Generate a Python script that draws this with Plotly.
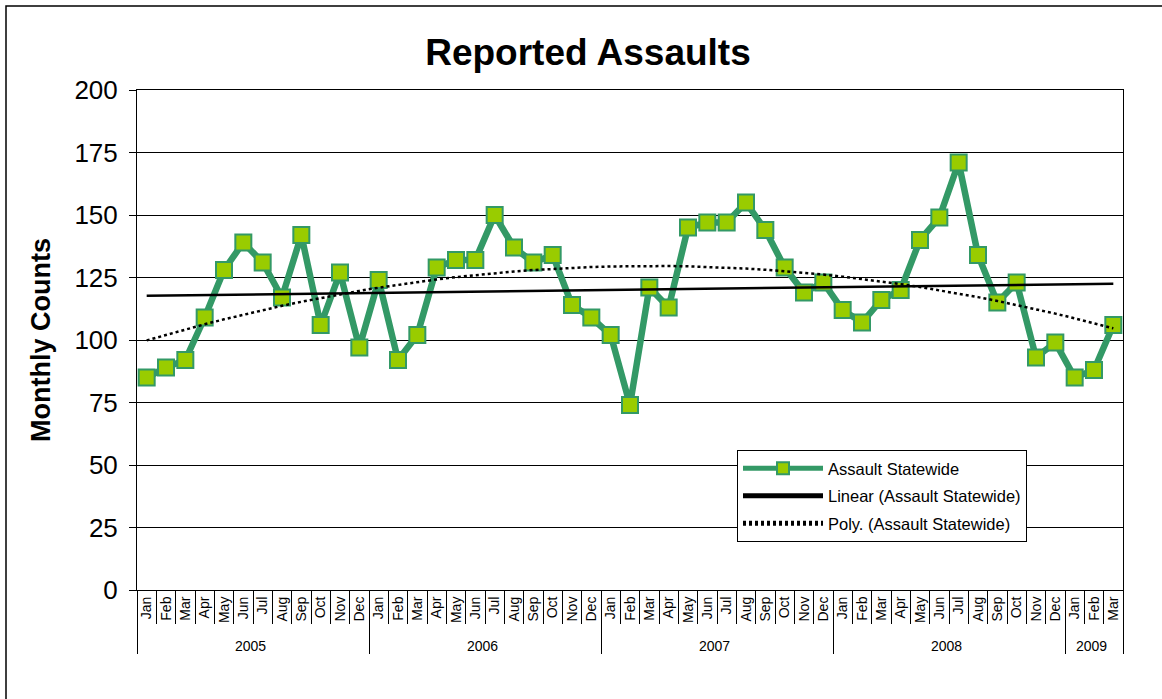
import numpy as np
import plotly.graph_objects as go

month_names = ["Jan", "Feb", "Mar", "Apr", "May", "Jun", "Jul", "Aug", "Sep", "Oct", "Nov", "Dec"]
years = ["2005"] * 12 + ["2006"] * 12 + ["2007"] * 12 + ["2008"] * 12 + ["2009"] * 3
months = month_names * 4 + ["Jan", "Feb", "Mar"]

assaults = [
    85, 89, 92, 109, 128, 139, 131, 117, 142, 106, 127, 97,     # 2005
    124, 92, 102, 129, 132, 132, 150, 137, 131, 134, 114, 109,  # 2006
    102, 74, 121, 113, 145, 147, 147, 155, 144, 129, 119, 123,  # 2007
    112, 107, 116, 120, 140, 149, 171, 134, 115, 123, 93, 99,   # 2008
    85, 88, 106,                                                 # 2009
]
y_ticks = [0, 25, 50, 75, 100, 125, 150, 175, 200]

# Excel-style trendlines (x = 1..n)
idx = np.arange(1, len(assaults) + 1)
linear = np.polyval(np.polyfit(idx, assaults, 1), idx)
poly2 = np.polyval(np.polyfit(idx, assaults, 2), idx)

FONT = "Liberation Sans, Arial, sans-serif"
x = [years, months]

fig = go.Figure()
fig.add_trace(go.Scatter(
    x=x, y=assaults, name="Assault Statewide", mode="lines+markers",
    legendgroup="a",
    line=dict(color="#339966", width=6.5),
    marker=dict(symbol="square", size=16, color="#99cc00",
                line=dict(color="#339966", width=2)),
))
fig.add_trace(go.Scatter(
    x=x, y=linear, name="Linear (Assault Statewide)", mode="lines",
    legendgroup="b",
    line=dict(color="black", width=2.5),
))
fig.add_trace(go.Scatter(
    x=x, y=poly2, name="Poly. (Assault Statewide)", mode="lines",
    legendgroup="c",
    line=dict(color="black", width=2.5, dash="3px,3px"),
))

L, R, T, B = 137, 39, 90, 109
W, H = 1162, 699
pw, ph = W - L - R, H - T - B

def px_x(p):
    return (p - L) / pw

def px_y(p):
    return (H - B - p) / ph

fig.update_layout(
    width=W, height=H,
    margin=dict(l=L, r=R, t=T, b=B),
    paper_bgcolor="white", plot_bgcolor="white",
    font=dict(family=FONT, color="black"),
    title=dict(text="<b>Reported Assaults</b>", font=dict(size=37, family=FONT, color="black"),
               x=588 / W, xanchor="center", xref="container",
               y=1 - 52 / H, yanchor="middle", yref="container"),
    showlegend=True,
    legend=dict(
        x=px_x(737), y=px_y(450), xanchor="left", yanchor="top",
        bgcolor="white", bordercolor="black", borderwidth=1,
        font=dict(size=16.5, family=FONT, color="black"),
        itemwidth=80, traceorder="grouped", tracegroupgap=3,
        itemsizing="constant",
    ),
    xaxis=dict(
        type="multicategory",
        range=[-0.5, len(assaults) - 0.5],
        showgrid=False,
        showline=True, linecolor="black", linewidth=1, mirror=True,
        ticks="outside", ticklen=33, tickcolor="black", tickwidth=1,
        tickangle=-90,
        tickfont=dict(size=14, family=FONT, color="black"),
        showdividers=True, dividercolor="black", dividerwidth=1,
    ),
    yaxis=dict(
        range=[0, 200], tickvals=y_ticks,
        showgrid=True, gridcolor="black", gridwidth=1,
        showline=True, linecolor="black", linewidth=1, mirror=True,
        ticks="outside", ticklen=7, tickcolor="black",
        tickfont=dict(size=26, family=FONT, color="black"),
        ticklabelstandoff=6,
        zeroline=False,
        title=dict(text="<b>Monthly Counts</b>", font=dict(size=27, family=FONT, color="black"),
                   standoff=15),
    ),
    shapes=[dict(
        type="rect", xref="paper", yref="paper",
        x0=px_x(6), y0=px_y(6), x1=px_x(1175), y1=px_y(712),
        line=dict(color="black", width=1.5), fillcolor="rgba(0,0,0,0)", layer="below",
    )],
)

fig.write_html("out.html", config={"displayModeBar": False},
               post_script="document.body.style.margin='0';")
